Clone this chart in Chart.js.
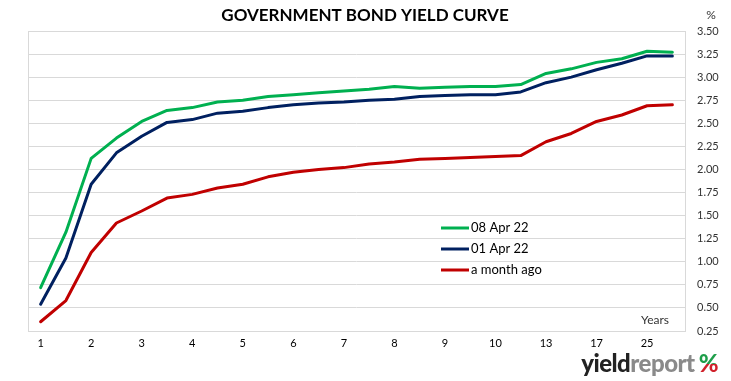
<!DOCTYPE html>
<html>
<head>
<meta charset="utf-8">
<script src="https://cdn.jsdelivr.net/npm/chart.js@4"></script>
<style>
body{margin:0;background:#fff}
#wrap{position:relative;width:731px;height:381px}
#logo{position:absolute;right:13px;top:348px;font-family:Lato,"Open Sans",sans-serif;font-weight:900;font-size:24px;letter-spacing:-0.5px}
#logo .a{color:#222}
#logo .b{color:#8a8a8a}
#logo .c{background:linear-gradient(#1e9e4a 55%,#d0202a 55%);-webkit-background-clip:text;background-clip:text;color:transparent;margin-left:4px}
</style>
</head>
<body>
<div id="wrap">
<canvas id="yieldChart" width="731" height="381"></canvas>
<div id="logo"><span class="a">yield</span><span class="b">report</span><span class="c">%</span></div>
</div>
<script>
// yield curve data

const terms=["1","1.5","2","2.5","3","3.5","4","4.5","5","5.5","6","6.5","7","7.5","8","8.5","9","9.5","10","12","13","15","17","20","25","30"]

const apr08=[0.72,1.32,2.12,2.34,2.52,2.64,2.67,2.73,2.75,2.79,2.81,2.83,2.85,2.87,2.90,2.88,2.89,2.90,2.90,2.92,3.04,3.09,3.16,3.20,3.28,3.27]

const apr01=[0.54,1.04,1.84,2.18,2.36,2.51,2.54,2.61,2.63,2.67,2.70,2.72,2.73,2.75,2.76,2.79,2.80,2.81,2.81,2.84,2.94,3.00,3.08,3.15,3.23,3.23]

const monthAgo=[0.35,0.58,1.10,1.42,1.55,1.69,1.73,1.80,1.84,1.92,1.97,2.00,2.02,2.06,2.08,2.11,2.12,2.13,2.14,2.15,2.30,2.39,2.52,2.59,2.69,2.70]

const seriesNames=["08 Apr 22","01 Apr 22","a month ago"]

const yTicks=[0.25,0.5,0.75,1,1.25,1.5,1.75,2,2.25,2.5,2.75,3,3.25,3.5]

const font="Lato, 'Open Sans', sans-serif"

// extra drawing: title, box, legend, labels

const decor={
id:"decor",
afterDraw(chart){
const c=chart.ctx
const a=chart.chartArea
c.save()

c.strokeStyle="#d9d9d9"
c.lineWidth=1
c.strokeRect(a.left+0.5,a.top+0.5,a.right-a.left,a.bottom-a.top)

c.fillStyle="#000"
c.font="bold 17px "+font
c.textAlign="center"
c.textBaseline="middle"
c.fillText("GOVERNMENT BOND YIELD CURVE",365,16)

c.font="12px "+font
c.fillStyle="#333"
c.fillText("%",711,15)

c.textAlign="left"
c.fillText("Years",641,320)

// legend
chart.data.datasets.forEach((ds,i)=>{
const y=228+i*21
c.strokeStyle=ds.borderColor
c.lineWidth=3
c.beginPath()
c.moveTo(441,y)
c.lineTo(469,y)
c.stroke()
c.fillStyle="#000"
c.font="13px "+font
c.fillText(ds.label,471,y)
})

c.restore()
}
}

new Chart(document.getElementById("yieldChart"),{

type:"line",

data:{
labels:terms,
datasets:[
{label:seriesNames[0],data:apr08,borderColor:"#00b050"},
{label:seriesNames[1],data:apr01,borderColor:"#002060"},
{label:seriesNames[2],data:monthAgo,borderColor:"#c00000"}
]
},

options:{
responsive:false,
animation:false,
layout:{padding:{top:31,left:28,right:0,bottom:0}},
elements:{
line:{borderWidth:3,tension:0,borderCapStyle:"round",borderJoinStyle:"round"},
point:{radius:0}
},
plugins:{
legend:{display:false},
title:{display:false},
tooltip:{enabled:false}
},
scales:{
x:{
offset:true,
grid:{display:false,drawTicks:false},
border:{display:false},
ticks:{
autoSkip:false,
maxRotation:0,
padding:6,
color:"#000",
font:{family:font,size:11},
callback:(v,i)=>i%2===0?terms[i]:""
},
afterFit(s){s.height=50}
},
y:{
position:"right",
min:0.25,
max:3.5,
afterBuildTicks(s){s.ticks=yTicks.map(v=>({value:v}))},
grid:{color:"#d9d9d9",drawTicks:false},
border:{display:false},
ticks:{
padding:12,
color:"#333",
font:{family:font,size:11},
callback:v=>v.toFixed(2)
},
afterFit(s){s.width=46}
}
}
},

plugins:[decor]

})
</script>
</body>
</html>
